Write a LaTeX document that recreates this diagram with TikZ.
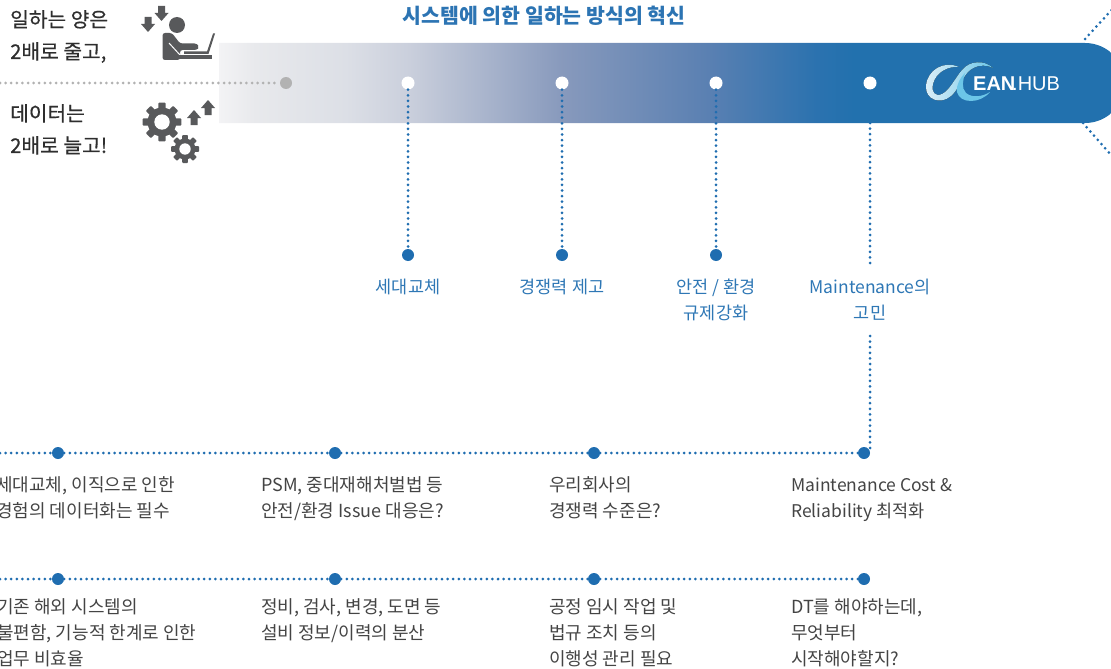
\documentclass[tikz,border=0pt]{standalone}
\usepackage{fontspec}
\setmainfont{Noto Sans CJK KR}
\newfontfamily\logofont{Liberation Sans}
\newfontfamily\medfont[FakeBold=0.5]{Noto Sans CJK KR}
\definecolor{barblue}{HTML}{2271AE}
\definecolor{dotblue}{HTML}{1F6DB0}
\definecolor{labelblue}{HTML}{2E77B5}
\definecolor{icongray}{HTML}{58595B}
\definecolor{bodygray}{HTML}{444444}
\definecolor{headgray}{HTML}{2E2E2E}
\definecolor{titleblue}{HTML}{2C74B3}
\definecolor{sa}{HTML}{F3F3F5}
\definecolor{sb}{HTML}{E8E9EC}
\definecolor{sc}{HTML}{DCDFE6}
\definecolor{sd}{HTML}{CACFDC}
\definecolor{se}{HTML}{8799BC}
\definecolor{sf}{HTML}{5A80B2}
\definecolor{sg}{HTML}{2B72AF}
\definecolor{logolight}{HTML}{DCEFF8}
\definecolor{logocyan}{HTML}{6CC6E8}
\pgfdeclarehorizontalshading{barshade}{100bp}{
 color(0bp)=(sa);
 color(25bp)=(sa);
 color(27bp)=(sb);
 color(32bp)=(sc);
 color(35.5bp)=(sd);
 color(44bp)=(se);
 color(52bp)=(sf);
 color(58bp)=(sg);
 color(60bp)=(barblue);
 color(100bp)=(barblue)}
\tikzset{
 x=1pt,y=-1pt,
 dotline/.style={line width=3pt,line cap=round,dash pattern=on 0pt off 5.6pt,draw=#1},
 dotline/.default=dotblue,
 whitedot/.style={circle,fill=white,minimum size=13pt,inner sep=0pt},
 bluedot/.style={circle,fill=dotblue,minimum size=12pt,inner sep=0pt},
 graydot/.style={circle,fill=black!30!white,minimum size=12pt,inner sep=0pt},
 lab/.style={text=labelblue,align=center,inner sep=0pt,font=\fontsize{17.5}{26}\selectfont},
 bodytext/.style={text=bodygray,align=left,anchor=north west,inner sep=0pt,font=\fontsize{18}{26}\selectfont},
 headtext/.style={text=headgray,align=left,anchor=north west,inner sep=0pt,font=\medfont\fontsize{20.3}{32}\selectfont},
 icon/.style={fill=icongray,draw=none}
}
\newcommand{\upArrow}[2]{\fill[icon] (#1-3.5,#2+15)--(#1+3.5,#2+15)--(#1+3.5,#2+8)--(#1+7,#2+8)--(#1,#2)--(#1-7,#2+8)--(#1-3.5,#2+8)--cycle;}
\newcommand{\downArrow}[2]{\fill[icon] (#1-3.5,#2-15)--(#1+3.5,#2-15)--(#1+3.5,#2-8)--(#1+7,#2-8)--(#1,#2)--(#1-7,#2-8)--(#1-3.5,#2-8)--cycle;}
\newcommand{\gearIcon}[5]{%
 \fill[icon] (#1,#2) circle[radius=#3];
 \foreach \a in {0,45,...,315}{
  \fill[icon,rounded corners=0.8pt,shift={(#1,#2)},rotate=\a] (-#4,0) rectangle (#4,#5);
 }
}
\begin{document}
\begin{tikzpicture}
\useasboundingbox (0,0) rectangle (1111,669);
\clip (0,0) rectangle (1111,669);
% bar
\path[shading=barshade] (219,43) -- (1085,43) arc[start angle=-90,end angle=90,radius=40] -- (219,123) -- cycle;
% coordinates
\coordinate (leftA) at (0,83);
\coordinate (rowAstart) at (0,453);
\coordinate (rowBstart) at (0,579);
\coordinate (tipTopA) at (1085,39);
\coordinate (tipTopB) at (1118,3);
\coordinate (tipBotA) at (1083,123);
\coordinate (tipBotB) at (1118,163);
\coordinate (mainA) at (870,123);
\coordinate (mainB) at (870,263);
\coordinate (mainC) at (870,336);
\coordinate (mainD) at (870,453);
% nodes
\node[graydot] (g0) at (286,83) {};
\node[whitedot] (w1) at (408,83) {};
\node[whitedot] (w2) at (562,83) {};
\node[whitedot] (w3) at (716,83) {};
\node[whitedot] (w4) at (870,83) {};
\node[bluedot] (b1) at (408,255) {};
\node[bluedot] (b2) at (562,255) {};
\node[bluedot] (b3) at (716,255) {};
\node[bluedot] (a1) at (58,453) {};
\node[bluedot] (a2) at (335,453) {};
\node[bluedot] (a3) at (594,453) {};
\node[bluedot] (a4) at (864,453) {};
\node[bluedot] (c1) at (58,579) {};
\node[bluedot] (c2) at (335,579) {};
\node[bluedot] (c3) at (594,579) {};
\node[bluedot] (c4) at (864,579) {};
% connectors
\draw[dotline=black!30!white] (leftA) -- (g0);
\draw[dotline] (w1) -- (b1);
\draw[dotline] (w2) -- (b2);
\draw[dotline] (w3) -- (b3);
\draw[dotline] (mainA) -- (mainB);
\draw[dotline] (mainC) -- (mainD);
\draw[dotline] (tipTopA) -- (tipTopB);
\draw[dotline] (tipBotA) -- (tipBotB);
\draw[dotline] (rowAstart) -- (a1);
\draw[dotline] (a1) -- (a2);
\draw[dotline] (a2) -- (a3);
\draw[dotline] (a3) -- (a4);
\draw[dotline] (rowBstart) -- (c1);
\draw[dotline] (c1) -- (c2);
\draw[dotline] (c2) -- (c3);
\draw[dotline] (c3) -- (c4);
% title
\node[text=titleblue,inner sep=0pt,font=\fontsize{20.5}{24}\bfseries\selectfont] (title) at (544,15.5) {시스템에 의한 일하는 방식의 혁신};
% top-left text
\node[headtext] (h1) at (10,10) {일하는 양은\\2배로 줄고,};
\node[headtext] (h2) at (10,104) {데이터는\\2배로 늘고!};
% labels
\node[lab] (l1) at (408,286.5) {세대교체};
\node[lab] (l2) at (562,286.5) {경쟁력 제고};
\node[lab] (l3) at (716,299.5) {안전 / 환경\\규제강화};
\node[lab] (l4) at (870,299.5) {Maintenance의\\고민};
% body rows
\node[bodytext] (t1) at (-4,476) {세대교체, 이직으로 인한\\경험의 데이터화는 필수};
\node[bodytext] (t2) at (261,476) {PSM, 중대재해처벌법 등\\안전/환경 Issue 대응은?};
\node[bodytext] (t3) at (549,476) {우리회사의\\경쟁력 수준은?};
\node[bodytext,font=\fontsize{17.5}{26}\selectfont] (t4) at (791,478) {Maintenance Cost \&\\Reliability 최적화};
\node[bodytext] (t5) at (-3,598) {기존 해외 시스템의\\불편함, 기능적 한계로 인한\\업무 비효율};
\node[bodytext] (t6) at (261,598) {정비, 검사, 변경, 도면 등\\설비 정보/이력의 분산};
\node[bodytext] (t7) at (549,598) {공정 임시 작업 및\\법규 조치 등의\\이행성 관리 필요};
\node[bodytext] (t8) at (791,598) {DT를 해야하는데,\\무엇부터\\시작해야할지?};
% logo
\fill[left color=logolight,right color=logocyan]
  (959,67) .. controls (944,60) and (927,70) .. (926,86) .. controls (925,100) and (941,105) .. (951,96) .. controls (958,90) and (961,80) .. (968,72) .. controls (975,65) and (985,64) .. (993,68) .. controls (985,60) and (970,60) .. (962,70) .. controls (955,78) and (950,90) .. (942,94) .. controls (935,97) and (931,92) .. (933,84) .. controls (936,72) and (948,66) .. (959,67) -- cycle;
\fill[logocyan]
  (990,92) .. controls (980,104) and (960,104) .. (957,92) .. controls (956,84) and (961,77) .. (965,73) .. controls (963,80) and (961,88) .. (966,93) .. controls (972,98) and (982,97) .. (990,92) -- cycle;
\node[inner sep=0pt,anchor=base west,text=white,font=\logofont\fontsize{20}{20}\bfseries\selectfont] (logoA) at (973,90) {EAN};
\node[inner sep=0pt,anchor=base west,text=white,font=\logofont\fontsize{20}{20}\selectfont] (logoB) at (1012,90) {.HUB};
% person icon
\downArrow{148}{32}
\downArrow{161.5}{21}
\fill[icon] (177,25) circle[radius=8];
\fill[icon,rounded corners=2.5pt] (162.5,60) -- (162.5,33) -- (172,33) -- (180,43.5) -- (197,43.5) -- (199,47) -- (197,50) -- (180,50) -- (180,60) -- cycle;
\draw[white,line width=1pt] (169,43) -- (180,55);
\fill[icon] (184,51.5) -- (207,51.5) -- (213,33.5) -- (215,33.5) -- (208.5,54) -- (184,54) -- cycle;
\fill[icon] (179,55) rectangle (212,59.5);
% gears
\gearIcon{162}{122}{14.5}{3.6}{19.3}
\fill[white] (162,122) circle[radius=7.7];
\gearIcon{185}{149}{10.5}{2.8}{14}
\fill[white] (185,149) circle[radius=5.7];
\upArrow{194}{110}
\upArrow{208}{100}
\end{tikzpicture}
\end{document}
